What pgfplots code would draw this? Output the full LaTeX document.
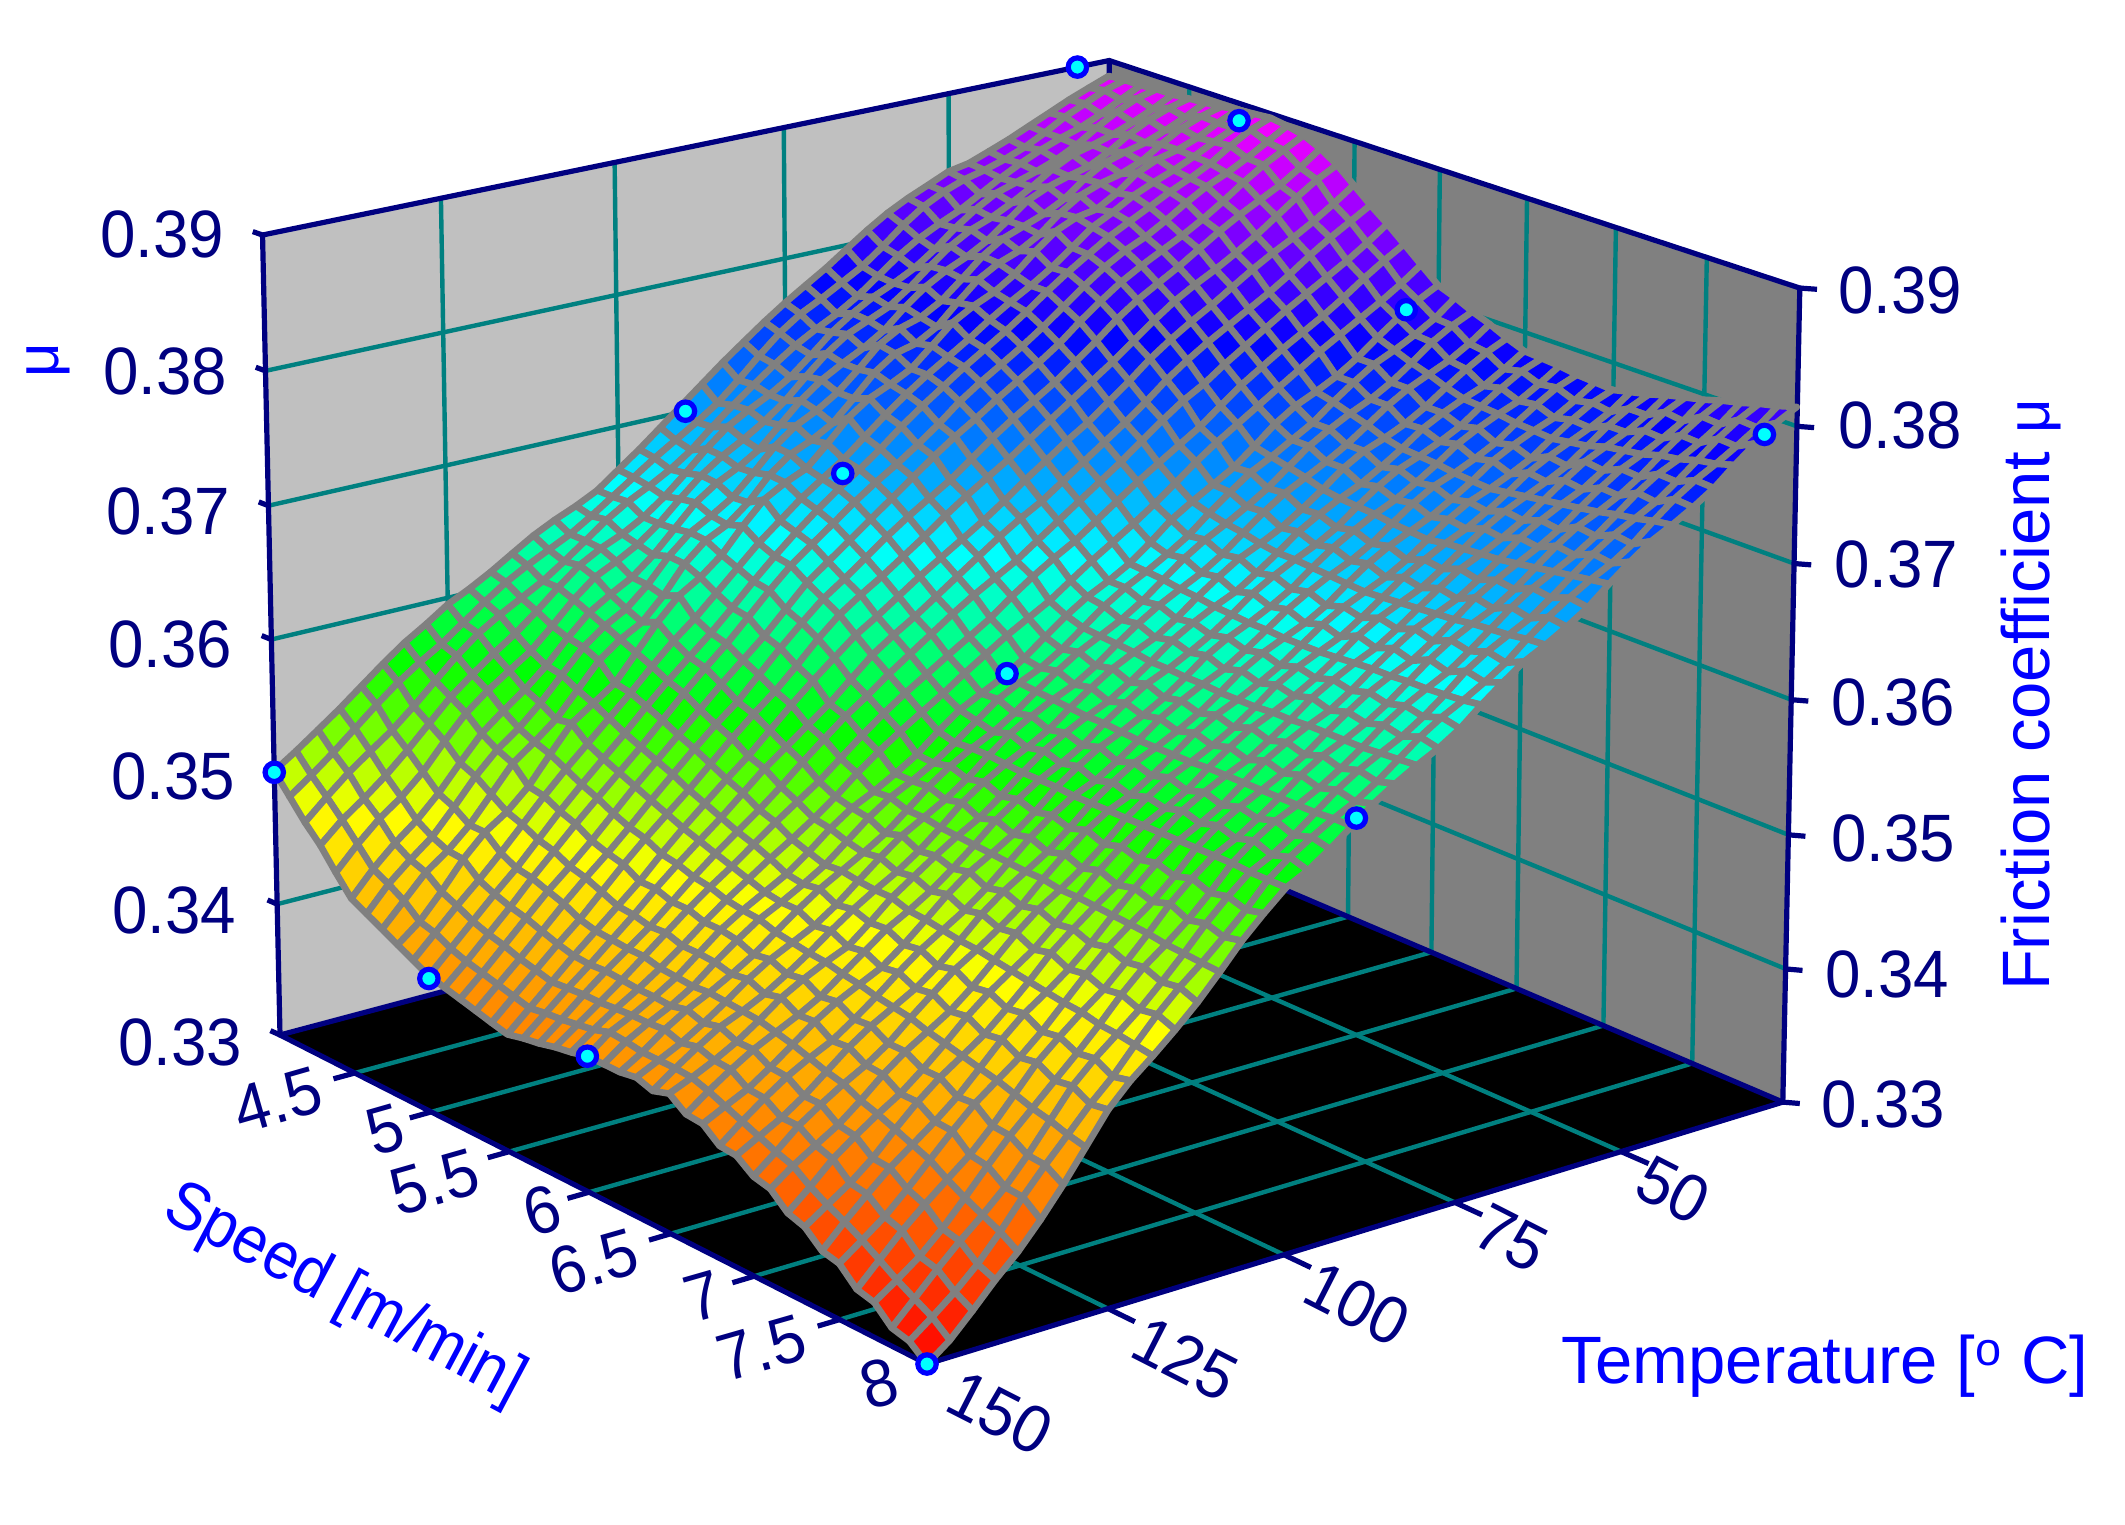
\documentclass[border=0pt]{standalone}
\usepackage{pgfplots}
\pgfplotsset{compat=1.18}
\usepackage{fontspec}
\setmainfont{Liberation Sans}
\definecolor{navyx}{HTML}{000080}
\definecolor{tealx}{HTML}{008080}
\definecolor{wallL}{HTML}{C0C0C0}
\definecolor{wallR}{HTML}{808080}
\definecolor{meshg}{HTML}{808080}
\definecolor{bluex}{HTML}{0000FF}
\definecolor{cyanx}{HTML}{00FFFF}
\tikzset{grd/.style={line width=2.2pt,color=tealx},edg/.style={line width=2.6pt,color=navyx,line cap=round},tck/.style={line width=2.6pt,color=navyx},
  lab/.style={font=\fontsize{33.5}{40}\selectfont,text=navyx,inner sep=0pt,xscale=.95},
  ttl/.style={font=\fontsize{33.5}{40}\selectfont,text=bluex,inner sep=0pt}}
% perspective view of (speed, temperature, mu) onto the page
\pgfmathdeclarefunction{px}{3}{\pgfmathparse{(280+142.05*(#1-4)+7.212*(150-#2)-388.3*(#3-.33))/(1-.02125*(#1-4)+.0005312*(150-#2)-.37*(#3-.33))}}
\pgfmathdeclarefunction{py}{3}{\pgfmathparse{(1035+53.275*(#1-4)-1.3328*(150-#2)-13420*(#3-.33))/(1-.02125*(#1-4)+.0005312*(150-#2)-.37*(#3-.33))}}
\newcount\colc
\def\allpts{}
\newcommand{\addpt}[2]{%
  \pgfmathsetmacro\T{25+3.125*\the\colc}%
  \pgfmathsetmacro\X{px(#1,\T,#2/10000)}%
  \pgfmathsetmacro\Y{py(#1,\T,#2/10000)}%
  \xdef\allpts{\allpts (\X,\Y) [#2]}%
  \xdef\lastm{#2}%
  \global\advance\colc by 1 }
\newcommand{\Row}[2]{%
  \global\colc=0
  \foreach \m in {#2}{\ifnum\colc<41 \addpt{#1}{\m}\fi}%
  \loop\ifnum\colc<41 \addpt{#1}{\lastm}\repeat}
% mu x 10000; one line per speed, temperature 25 ... 150 in 41 steps
\Row{4.0}{3888,3882,3876,3869,3862,3855,3849,3843,3840, 3833,3826,3818,3808,3797,3786,3776,3766, 3755,3743,3731,3718,3705,3692,3679,3667, 3655,3647,3640,3632,3622,3612,3603,3595, 3584,3574,3562,3549,3536,3524,3512,3501}
\Row{4.1}{3889,3884,3877,3870,3861,3853,3847,3842,3838, 3832,3824,3813,3800,3788,3779,3770,3762, 3751,3737,3722,3708,3697,3687,3677,3666, 3655,3644,3634,3626,3618,3609,3598,3586, 3574,3564,3553,3540,3526,3512,3499,3487}
\Row{4.2}{3889,3881,3873,3866,3861,3855,3848,3840,3831, 3822,3815,3807,3797,3785,3773,3763,3755, 3746,3735,3723,3711,3698,3684,3673,3664, 3656,3646,3634,3622,3611,3602,3593,3583, 3570,3555,3540,3526,3514,3502,3488,3473}
\Row{4.3}{3890,3886,3879,3870,3860,3852,3846,3841,3836, 3827,3816,3803,3792,3784,3777,3768,3757, 3743,3730,3720,3712,3703,3690,3675,3661, 3649,3640,3633,3624,3611,3597,3584,3573, 3561,3548,3532,3516,3501,3488,3476,3461}
\Row{4.4}{3890,3882,3875,3869,3864,3860,3852,3842,3833, 3825,3819,3810,3798,3785,3774,3767,3760, 3749,3735,3720,3708,3698,3689,3678,3664, 3649,3637,3628,3620,3607,3591,3576,3565, 3554,3541,3524,3505,3490,3478,3463,3446}
\Row{4.5}{3891,3887,3881,3873,3863,3855,3851,3846,3839, 3827,3815,3806,3799,3790,3778,3764,3754, 3746,3737,3725,3710,3695,3685,3677,3666, 3650,3634,3621,3612,3602,3587,3570,3556, 3544,3531,3513,3494,3478,3465,3450,3432}
\Row{4.6}{3892,3884,3877,3871,3867,3862,3853,3841,3833, 3827,3821,3811,3797,3784,3775,3770,3761, 3746,3732,3722,3714,3702,3686,3671,3661, 3652,3638,3620,3606,3597,3585,3568,3551, 3536,3524,3508,3489,3471,3458,3444,3426}
\Row{4.7}{3893,3889,3883,3874,3864,3858,3854,3848,3838, 3825,3816,3810,3801,3787,3772,3763,3759, 3748,3732,3717,3708,3701,3689,3672,3659, 3651,3637,3617,3601,3592,3580,3562,3544, 3531,3519,3500,3481,3466,3454,3437,3420}
\Row{4.8}{3895,3888,3880,3874,3870,3863,3851,3842,3839, 3832,3820,3806,3796,3789,3780,3766,3752, 3744,3737,3726,3710,3695,3688,3679,3663, 3645,3632,3622,3606,3587,3568,3557,3546, 3527,3507,3492,3481,3465,3445,3427,3414}
\Row{4.9}{3896,3888,3881,3873,3866,3860,3853,3844,3836, 3824,3812,3802,3793,3783,3772,3762,3752, 3741,3729,3716,3703,3692,3681,3668,3655, 3640,3625,3610,3597,3582,3566,3551,3536, 3521,3505,3488,3471,3455,3440,3424,3408}
\Row{5.0}{3897,3891,3882,3872,3864,3857,3849,3841,3833, 3823,3813,3802,3790,3779,3769,3759,3748, 3737,3725,3712,3700,3689,3677,3664,3650, 3635,3619,3604,3590,3576,3561,3545,3530, 3515,3499,3482,3465,3450,3434,3418,3402}
\Row{5.1}{3895,3886,3877,3869,3862,3853,3843,3834,3827, 3818,3807,3795,3783,3772,3762,3752,3741, 3728,3716,3705,3695,3684,3672,3660,3648, 3633,3617,3601,3587,3572,3556,3540,3525, 3510,3495,3479,3463,3446,3430,3414,3399}
\Row{5.2}{3892,3884,3876,3866,3855,3845,3836,3828,3820, 3811,3800,3788,3775,3764,3754,3744,3733, 3723,3712,3700,3688,3676,3664,3652,3640, 3624,3608,3594,3580,3565,3550,3535,3520, 3504,3488,3473,3459,3443,3427,3411,3396}
\Row{5.3}{3886,3875,3865,3857,3849,3840,3830,3820,3811, 3802,3791,3778,3766,3754,3744,3734,3723, 3711,3699,3689,3679,3668,3656,3644,3633, 3619,3604,3588,3572,3559,3545,3530,3515, 3499,3484,3470,3455,3439,3423,3408,3393}
\Row{5.4}{3878,3870,3860,3849,3838,3828,3819,3811,3802, 3791,3779,3767,3756,3745,3734,3723,3712, 3702,3692,3681,3669,3658,3647,3637,3626, 3612,3596,3581,3568,3554,3539,3524,3510, 3496,3481,3465,3449,3435,3420,3405,3390}
\Row{5.5}{3867,3856,3846,3837,3829,3820,3810,3800,3791, 3781,3770,3757,3745,3733,3723,3712,3701, 3689,3678,3668,3658,3648,3637,3626,3616, 3603,3590,3576,3561,3546,3533,3519,3505, 3490,3474,3460,3446,3432,3417,3402,3387}
\Row{5.6}{3856,3847,3838,3828,3817,3807,3798,3789,3780, 3770,3759,3746,3734,3723,3712,3701,3690, 3681,3671,3660,3649,3638,3627,3617,3606, 3592,3578,3566,3554,3542,3528,3514,3501, 3488,3474,3459,3445,3431,3418,3404,3390}
\Row{5.7}{3846,3835,3825,3816,3807,3798,3788,3778,3768, 3757,3748,3737,3725,3713,3702,3691,3680, 3669,3658,3649,3640,3630,3619,3608,3597, 3585,3574,3561,3548,3534,3521,3509,3497, 3484,3470,3456,3444,3432,3419,3405,3392}
\Row{5.8}{3835,3826,3816,3805,3795,3786,3777,3767,3757, 3745,3733,3723,3713,3703,3692,3681,3670, 3661,3651,3640,3628,3618,3608,3598,3588, 3577,3565,3552,3539,3528,3517,3505,3493, 3482,3470,3457,3444,3431,3419,3407,3395}
\Row{5.9}{3824,3813,3803,3794,3785,3776,3766,3756,3746, 3736,3726,3715,3703,3691,3680,3670,3660, 3649,3638,3629,3620,3610,3600,3589,3579, 3569,3558,3546,3533,3521,3510,3500,3489, 3478,3466,3453,3441,3430,3420,3409,3397}
\Row{6.0}{3813,3805,3795,3784,3772,3762,3754,3747,3737, 3724,3712,3703,3694,3684,3671,3659,3650, 3642,3632,3620,3608,3598,3590,3582,3570, 3557,3547,3538,3530,3519,3506,3494,3485, 3476,3466,3453,3440,3430,3421,3413,3400}
\Row{6.1}{3808,3796,3787,3779,3772,3762,3751,3739,3730, 3721,3713,3702,3690,3677,3667,3658,3650, 3640,3628,3616,3606,3599,3591,3579,3567, 3556,3547,3539,3528,3515,3502,3492,3483, 3475,3464,3452,3439,3429,3421,3412,3400}
\Row{6.2}{3802,3795,3786,3774,3763,3754,3747,3739,3730, 3718,3706,3696,3687,3679,3669,3657,3645, 3635,3627,3619,3609,3598,3586,3576,3568, 3559,3548,3535,3522,3512,3503,3494,3483, 3471,3459,3449,3440,3432,3422,3410,3400}
\Row{6.3}{3797,3786,3777,3770,3763,3754,3743,3732,3723, 3715,3707,3697,3685,3673,3663,3655,3647, 3637,3626,3614,3604,3597,3589,3580,3568, 3555,3544,3535,3526,3514,3501,3488,3477, 3469,3461,3451,3439,3428,3418,3410,3402}
\Row{6.4}{3791,3784,3775,3765,3754,3745,3738,3732,3723, 3711,3700,3690,3682,3675,3665,3654,3642, 3632,3625,3617,3607,3596,3584,3575,3567, 3558,3547,3533,3520,3509,3500,3490,3479, 3467,3456,3446,3438,3431,3421,3410,3398}
\Row{6.5}{3786,3776,3767,3761,3754,3746,3735,3725,3716, 3709,3701,3692,3680,3669,3659,3652,3644, 3635,3623,3612,3602,3595,3587,3578,3566, 3553,3541,3532,3522,3511,3500,3486,3473, 3466,3458,3449,3437,3426,3417,3409,3402}
\Row{6.6}{3785,3779,3770,3760,3749,3741,3734,3728,3719, 3708,3696,3687,3680,3672,3663,3651,3640, 3631,3623,3616,3606,3595,3583,3574,3566, 3556,3545,3531,3518,3506,3496,3487,3475, 3463,3451,3442,3434,3426,3416,3405,3393}
\Row{6.7}{3784,3774,3765,3759,3752,3744,3733,3723,3714, 3707,3699,3690,3679,3667,3658,3650,3643, 3634,3622,3611,3602,3594,3587,3577,3566, 3552,3540,3530,3521,3509,3495,3481,3469, 3461,3453,3443,3431,3419,3408,3400,3392}
\Row{6.8}{3782,3776,3767,3757,3746,3738,3731,3725,3716, 3705,3694,3685,3678,3670,3661,3650,3639, 3629,3622,3614,3605,3593,3582,3572,3565, 3555,3543,3529,3515,3503,3493,3483,3471, 3458,3446,3435,3427,3418,3407,3395,3382}
\Row{6.9}{3781,3771,3762,3756,3749,3741,3730,3720,3711, 3704,3697,3688,3677,3665,3656,3649,3642, 3633,3621,3610,3601,3593,3586,3576,3565, 3551,3538,3528,3518,3506,3491,3477,3465, 3456,3447,3436,3423,3410,3399,3390,3381}
\Row{7.0}{3780,3774,3765,3755,3744,3736,3729,3723,3714, 3703,3692,3683,3676,3669,3660,3649,3638, 3629,3621,3614,3605,3593,3582,3572,3565, 3555,3542,3528,3513,3501,3490,3480,3467, 3454,3440,3429,3420,3410,3399,3385,3372}
\Row{7.1}{3783,3772,3764,3757,3750,3742,3731,3721,3712, 3705,3697,3688,3677,3666,3656,3649,3642, 3633,3621,3610,3601,3593,3586,3576,3565, 3550,3537,3526,3516,3503,3488,3473,3460, 3450,3440,3428,3414,3401,3391,3381,3369}
\Row{7.2}{3786,3779,3770,3759,3748,3740,3733,3726,3717, 3706,3695,3685,3678,3671,3662,3650,3639, 3630,3622,3615,3605,3594,3582,3573,3565, 3554,3541,3526,3511,3497,3486,3475,3462, 3447,3433,3420,3410,3399,3387,3372,3358}
\Row{7.3}{3790,3779,3770,3763,3756,3746,3735,3724,3715, 3707,3700,3690,3679,3668,3658,3651,3643, 3634,3622,3611,3601,3594,3586,3577,3565, 3550,3536,3525,3513,3500,3484,3469,3455, 3444,3433,3420,3405,3389,3376,3365,3354}
\Row{7.4}{3793,3786,3776,3765,3754,3744,3737,3729,3720, 3708,3697,3687,3680,3673,3663,3652,3640, 3630,3623,3615,3606,3594,3582,3573,3565, 3553,3539,3524,3508,3494,3482,3471,3457, 3441,3425,3412,3400,3388,3374,3359,3343}
\Row{7.5}{3796,3784,3775,3767,3760,3750,3739,3727,3718, 3710,3702,3693,3681,3669,3659,3652,3644, 3634,3623,3611,3602,3594,3586,3577,3565, 3549,3535,3523,3511,3496,3480,3464,3450, 3438,3426,3411,3395,3379,3364,3352,3340}
\Row{7.6}{3800,3792,3782,3771,3759,3749,3741,3734,3724, 3712,3700,3690,3683,3675,3665,3653,3641, 3631,3623,3616,3606,3594,3583,3573,3565, 3553,3539,3522,3506,3491,3479,3466,3452, 3434,3416,3400,3387,3374,3360,3344,3328}
\Row{7.7}{3803,3791,3781,3773,3766,3756,3744,3732,3722, 3714,3706,3696,3684,3672,3661,3653,3645, 3635,3623,3612,3602,3594,3587,3577,3565, 3548,3533,3520,3508,3493,3476,3460,3445, 3430,3415,3398,3380,3363,3348,3336,3325}
\Row{7.8}{3807,3799,3789,3777,3765,3754,3746,3738,3728, 3716,3704,3693,3685,3677,3667,3654,3642, 3632,3624,3616,3606,3594,3582,3572,3564, 3551,3536,3519,3503,3488,3475,3462,3447, 3427,3407,3389,3374,3360,3345,3329,3313}
\Row{7.9}{3810,3798,3788,3779,3771,3761,3749,3736,3726, 3718,3709,3699,3687,3674,3664,3655,3647, 3637,3625,3613,3603,3595,3586,3576,3564, 3547,3532,3518,3505,3490,3473,3455,3440, 3423,3406,3388,3368,3350,3335,3322,3310}
\Row{8.0}{3814,3806,3795,3783,3770,3760,3751,3743,3732, 3720,3707,3697,3688,3680,3669,3657,3644, 3634,3626,3617,3607,3595,3583,3572,3564, 3550,3535,3517,3500,3485,3471,3458,3442, 3420,3398,3378,3360,3345,3328,3312,3300}
\pgfplotsset{colormap={mu}{rgb255(0cm)=(255,0,0) rgb255(1.8cm)=(255,255,0) rgb255(2.65cm)=(0,255,0) rgb255(3.6cm)=(0,255,255) rgb255(4.8cm)=(0,0,255) rgb255(6cm)=(255,0,255)}}
\newcommand{\seg}[2]{\addplot[#1] table[row sep=\\,x expr={px(\thisrow{s},\thisrow{t},\thisrow{z})},y expr={py(\thisrow{s},\thisrow{t},\thisrow{z})}]{s t z\\#2};}
\begin{document}
\begin{tikzpicture}
\useasboundingbox (0,0) rectangle (1062.5pt,762.5pt);
\begin{axis}[at={(0,0)},anchor=south west,scale only axis,width=1062.5pt,height=762.5pt,xmin=0,xmax=2125,ymin=0,ymax=1525,y dir=reverse,hide axis,clip=false,
  colormap name=mu,point meta min=3300,point meta max=3900]
% walls and floor
\seg{fill=wallL,draw=none}{4 150 .33\\4 25 .33\\4 25 .39\\4 150 .39\\4 150 .33\\}
\seg{fill=wallR,draw=none}{4 25 .33\\8 25 .33\\8 25 .39\\4 25 .39\\4 25 .33\\}
\seg{fill=black,draw=none}{4 150 .33\\8 150 .33\\8 25 .33\\4 25 .33\\4 150 .33\\}
% grid
\pgfplotsinvokeforeach{.34,.35,.36,.37,.38}{\seg{grd}{4 150 #1\\4 25 #1\\8 25 #1\\}}
\pgfplotsinvokeforeach{125,100,75,50}{\seg{grd}{4 #1 .39\\4 #1 .33\\8 #1 .33\\}}
\pgfplotsinvokeforeach{4.5,5,5.5,6,6.5,7,7.5}{\seg{grd}{#1 25 .39\\#1 25 .33\\#1 150 .33\\}}
% box edges
\seg{edg}{4 150 .33\\4 150 .39\\4 25 .39\\8 25 .39\\8 25 .33\\8 150 .33\\4 150 .33\\}
\seg{edg}{4 150 .33\\4 25 .33\\8 25 .33\\}
\seg{edg}{4 25 .33\\4 25 .39\\}
% ticks
\pgfplotsinvokeforeach{.33,.34,.35,.36,.37,.38,.39}{\seg{tck}{4 150 #1\\3.94 150.1 #1\\}\seg{tck}{8 25 #1\\8.05 23.8 #1\\}}
\pgfplotsinvokeforeach{4.5,5,5.5,6,6.5,7,7.5}{\seg{tck}{#1 150 .33\\#1 153 .33\\}}
\pgfplotsinvokeforeach{125,100,75,50}{\seg{tck}{8 #1 .33\\8.15 #1 .33\\}}
% surface
\edef\surfplot{\noexpand\addplot[surf,shader=faceted,faceted color=meshg,line width=3.3pt,line join=round,point meta=explicit,mesh/rows=41,mesh/cols=41] coordinates {\allpts};}
\surfplot
% measured points
\addplot[only marks,mark=*,mark size=4.6pt,mark options={draw=bluex,fill=cyanx,line width=2.6pt}] table[row sep=\\,x expr={px(\thisrow{s},\thisrow{t},\thisrow{z})},y expr={py(\thisrow{s},\thisrow{t},\thisrow{z})}]{s t z\\4 150 .35\\4 90 .37\\4 30 .39\\5 150 .34\\5 90 .37\\5 30 .39\\6 150 .34\\6 90 .36\\6 30 .38\\8 150 .33\\8 90 .36\\8 30 .38\\};
% z tick labels
\node[lab] at (axis cs:162,234) {0.39};
\node[lab] at (axis cs:165,371) {0.38};
\node[lab] at (axis cs:168,511) {0.37};
\node[lab] at (axis cs:170,644) {0.36};
\node[lab] at (axis cs:173,776) {0.35};
\node[lab] at (axis cs:174,910) {0.34};
\node[lab] at (axis cs:180,1042) {0.33};
\node[lab] at (axis cs:1900,290) {0.39};
\node[lab] at (axis cs:1900,425) {0.38};
\node[lab] at (axis cs:1896,564) {0.37};
\node[lab] at (axis cs:1893,702) {0.36};
\node[lab] at (axis cs:1893,838) {0.35};
\node[lab] at (axis cs:1887,974) {0.34};
\node[lab] at (axis cs:1883,1104) {0.33};
% speed tick labels
\begin{scope}[every node/.style={font=\fontsize{33.5}{40}\selectfont,text=navyx,inner sep=0pt,rotate=16,xscale=.95}]
\node at (axis cs:278,1100) {4.5};
\node at (axis cs:385,1130) {5};
\node at (axis cs:435,1182) {5.5};
\node at (axis cs:542,1210) {6};
\node at (axis cs:594,1262) {6.5};
\node at (axis cs:703,1296) {7};
\node at (axis cs:762,1348) {7.5};
\node at (axis cs:879,1383) {8};
\end{scope}
% temperature tick labels
\begin{scope}[every node/.style={font=\fontsize{33.5}{40}\selectfont,text=navyx,inner sep=0pt,rotate=-27,xscale=.95}]
\node at (axis cs:1000,1413) {150};
\node at (axis cs:1185,1359) {125};
\node at (axis cs:1357,1304) {100};
\node at (axis cs:1511,1238) {75};
\node at (axis cs:1673,1190) {50};
\end{scope}
% titles
\node[ttl,rotate=-28,xscale=.92] at (axis cs:344,1295) {Speed [m/min]};
\node[ttl] at (axis cs:1825,1366) {Temperature [\textsuperscript{o} C]};
\node[ttl,rotate=90] at (axis cs:2031,695) {Friction coefficient {\fontsize{30}{30}\selectfont μ}};
\node[ttl,rotate=90] at (axis cs:48,360) {\fontsize{30}{30}\selectfont μ};
\end{axis}
\end{tikzpicture}
\end{document}
